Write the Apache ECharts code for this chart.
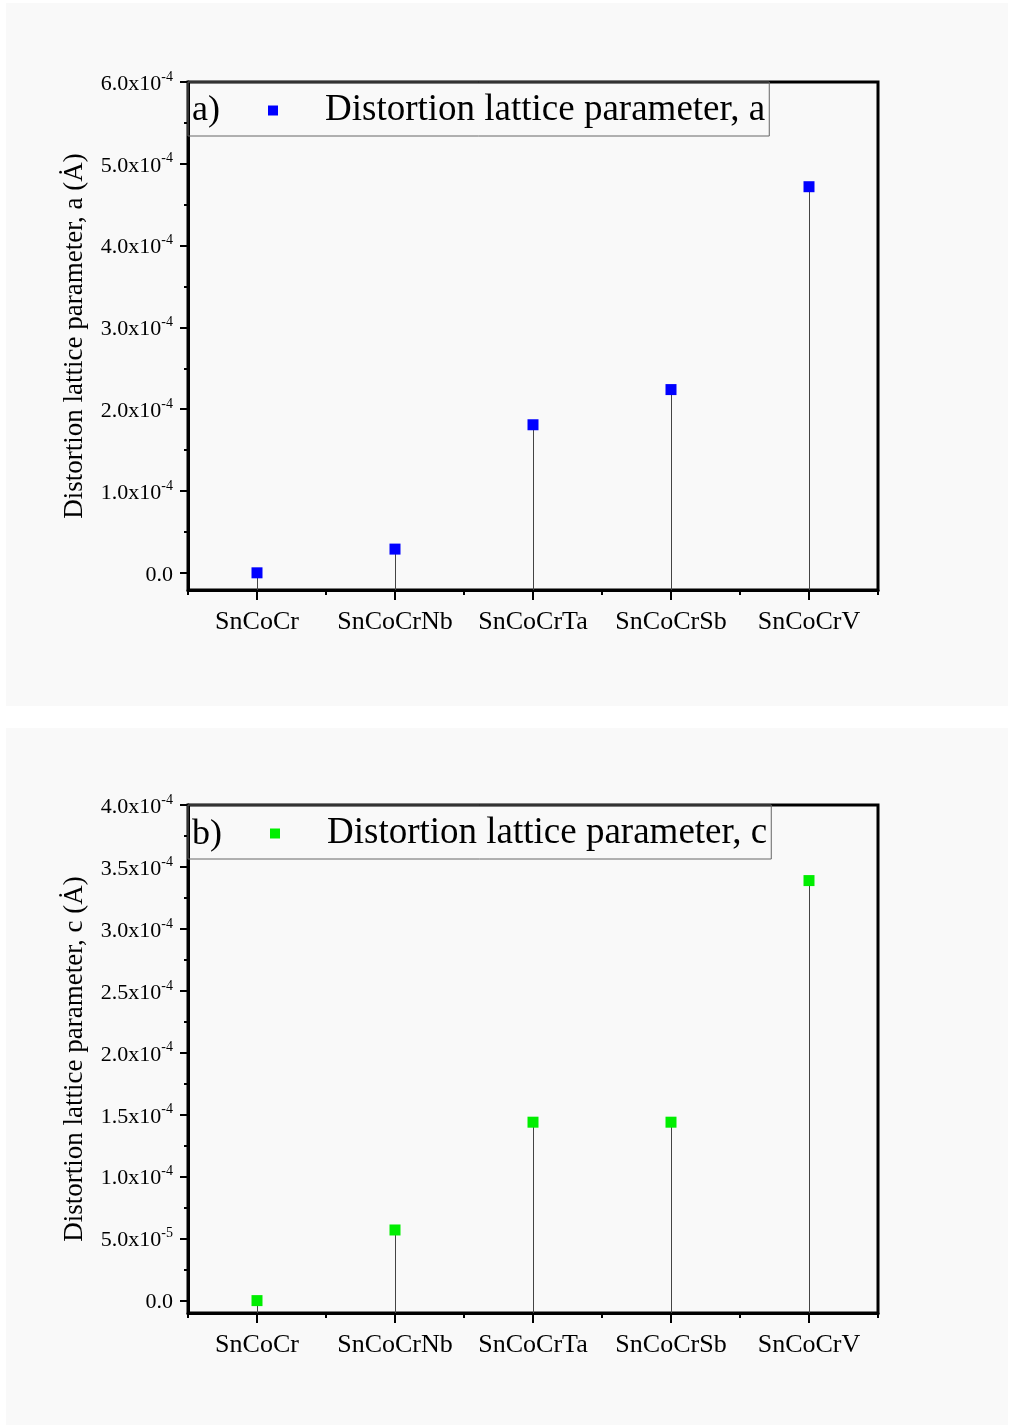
<!DOCTYPE html>
<html>
<head>
<meta charset="utf-8">
<script src="https://cdn.jsdelivr.net/npm/echarts@6/dist/echarts.min.js"></script>
<style>
  html, body { margin: 0; padding: 0; background: #fff; }
  #main { width: 1011px; height: 1425px; }
</style>
</head>
<body>
<div id="main"></div>
<script>
// data
var categories = ["SnCoCr", "SnCoCrNb", "SnCoCrTa", "SnCoCrSb", "SnCoCrV"];
var aValues = [0, 2.9e-5, 1.81e-4, 2.24e-4, 4.72e-4];
var cValues = [0, 5.7e-5, 1.44e-4, 1.44e-4, 3.39e-4];

// axis ticks
var aTicks = [0, 1e-4, 2e-4, 3e-4, 4e-4, 5e-4, 6e-4];
var aMinorTicks = [0.5e-4, 1.5e-4, 2.5e-4, 3.5e-4, 4.5e-4, 5.5e-4];
var cTicks = [0, 5e-5, 1e-4, 1.5e-4, 2e-4, 2.5e-4, 3e-4, 3.5e-4, 4e-4];
var cMinorTicks = [2.5e-5, 7.5e-5, 1.25e-4, 1.75e-4, 2.25e-4, 2.75e-4, 3.25e-4, 3.75e-4];

var aName = "Distortion lattice parameter, a";
var cName = "Distortion lattice parameter, c";

var serif = "'Liberation Serif', 'Times New Roman', serif";

// labels like 6.0x10^-4
function sciLabel(v) {
  if (v === 0) return "{m|0.0}";
  var e = Math.floor(Math.log10(Math.abs(v)) + 1e-9);
  var m = v / Math.pow(10, e);
  return "{m|" + m.toFixed(1) + "x10}{s|" + e + "}";
}

var labelRich = {
  m: { fontSize: 22, fontFamily: serif, color: "#000", verticalAlign: "bottom", lineHeight: 26 },
  s: { fontSize: 14, fontFamily: serif, color: "#000", verticalAlign: "bottom", lineHeight: 26, padding: [0, 0, 11, 0] }
};

function makeYAxes(gridIndex, min, max, ticks, minor, name) {
  return [
    {
      gridIndex: gridIndex,
      type: "value",
      min: min,
      max: max,
      name: name,
      nameLocation: "middle",
      nameGap: 100,
      nameTextStyle: { fontSize: 27, fontFamily: serif, color: "#000" },
      axisLine: { show: true, onZero: false, lineStyle: { color: "#000", width: 3 } },
      axisTick: { show: true, inside: false, length: 8, customValues: ticks, lineStyle: { color: "#000", width: 2 } },
      axisLabel: { customValues: ticks, formatter: sciLabel, rich: labelRich, margin: 15 },
      splitLine: { show: false }
    },
    {
      gridIndex: gridIndex,
      type: "value",
      min: min,
      max: max,
      position: "left",
      axisLine: { show: false },
      axisTick: { show: true, inside: false, length: 4, customValues: minor, lineStyle: { color: "#000", width: 2 } },
      axisLabel: { show: false },
      splitLine: { show: false }
    }
  ];
}

function makeXAxes(gridIndex) {
  return [
    {
      gridIndex: gridIndex,
      type: "category",
      data: categories,
      position: "bottom",
      axisLine: { show: true, onZero: false, lineStyle: { color: "#000", width: 3 } },
      axisTick: { show: true, alignWithLabel: true, interval: 0, length: 10, lineStyle: { color: "#000", width: 2 } },
      axisLabel: { interval: 0, fontSize: 26, fontFamily: serif, color: "#000", margin: 19 },
      splitLine: { show: false }
    },
    {
      gridIndex: gridIndex,
      type: "category",
      data: categories,
      position: "bottom",
      axisLine: { show: false, onZero: false },
      axisTick: { show: true, alignWithLabel: false, interval: 0, length: 5, lineStyle: { color: "#000", width: 2 } },
      axisLabel: { show: false },
      splitLine: { show: false }
    }
  ];
}

function stemSeries(xi, yi, values, yMin) {
  return {
    type: "custom",
    xAxisIndex: xi,
    yAxisIndex: yi,
    z: 1,
    silent: true,
    data: values.map(function (v, i) { return [i, v]; }),
    renderItem: function (params, api) {
      var top = api.coord([api.value(0), api.value(1)]);
      var bottom = api.coord([api.value(0), yMin]);
      var x = Math.round(top[0]) + 0.5;
      return {
        type: "line",
        shape: { x1: x, y1: top[1], x2: x, y2: bottom[1] },
        style: { stroke: "#444", lineWidth: 1 }
      };
    }
  };
}

var aMin = -2.1e-5, aMax = 6e-4;
var cMin = -1e-5, cMax = 4e-4;

var chart = echarts.init(document.getElementById("main"), null, { renderer: "canvas" });

var titleStyle = { fontSize: 36, fontFamily: serif, fontWeight: "normal", color: "#000" };
var legendText = { fontSize: 37, fontFamily: serif, color: "#000", padding: [0, 0, 0, 42] };

var option = {
  backgroundColor: "#fff",
  animation: false,
  graphic: [
    { type: "rect", z: -10, silent: true, shape: { x: 6, y: 3, width: 1002, height: 703 }, style: { fill: "#f9f9f9" } },
    { type: "rect", z: -10, silent: true, shape: { x: 6, y: 728, width: 1002, height: 697 }, style: { fill: "#f9f9f9" } }
  ],
  title: [
    { text: "a)", left: 192, top: 93, textStyle: titleStyle, padding: 0 },
    { text: "b)", left: 192, top: 817, textStyle: titleStyle, padding: 0 }
  ],
  legend: [
    {
      data: [aName],
      left: 188,
      top: 82,
      orient: "horizontal",
      padding: [10, 4, 7, 80],
      borderColor: "#666",
      borderWidth: 1,
      icon: "rect",
      itemWidth: 10,
      itemHeight: 10,
      textStyle: legendText
    },
    {
      data: [cName],
      left: 188,
      top: 805,
      orient: "horizontal",
      padding: [10, 4, 7, 82],
      borderColor: "#666",
      borderWidth: 1,
      icon: "rect",
      itemWidth: 10,
      itemHeight: 10,
      textStyle: legendText
    }
  ],
  grid: [
    { left: 188, top: 82, width: 690, height: 508, show: true, borderColor: "#000", borderWidth: 3, backgroundColor: "transparent" },
    { left: 188, top: 805, width: 690, height: 508, show: true, borderColor: "#000", borderWidth: 3, backgroundColor: "transparent" }
  ],
  xAxis: makeXAxes(0).concat(makeXAxes(1)),
  yAxis: makeYAxes(0, aMin, aMax, aTicks, aMinorTicks, aName + " (\u0226)")
    .concat(makeYAxes(1, cMin, cMax, cTicks, cMinorTicks, cName + " (\u0226)")),
  series: [
    stemSeries(0, 0, aValues, aMin),
    {
      name: aName,
      type: "scatter",
      xAxisIndex: 0,
      yAxisIndex: 0,
      symbol: "rect",
      symbolSize: 11,
      z: 3,
      itemStyle: { color: "#0000ff", opacity: 1 },
      data: aValues
    },
    stemSeries(2, 2, cValues, cMin),
    {
      name: cName,
      type: "scatter",
      xAxisIndex: 2,
      yAxisIndex: 2,
      symbol: "rect",
      symbolSize: 11,
      z: 3,
      itemStyle: { color: "#00ee00", opacity: 1 },
      data: cValues
    }
  ]
};

chart.setOption(option);
</script>
</body>
</html>
